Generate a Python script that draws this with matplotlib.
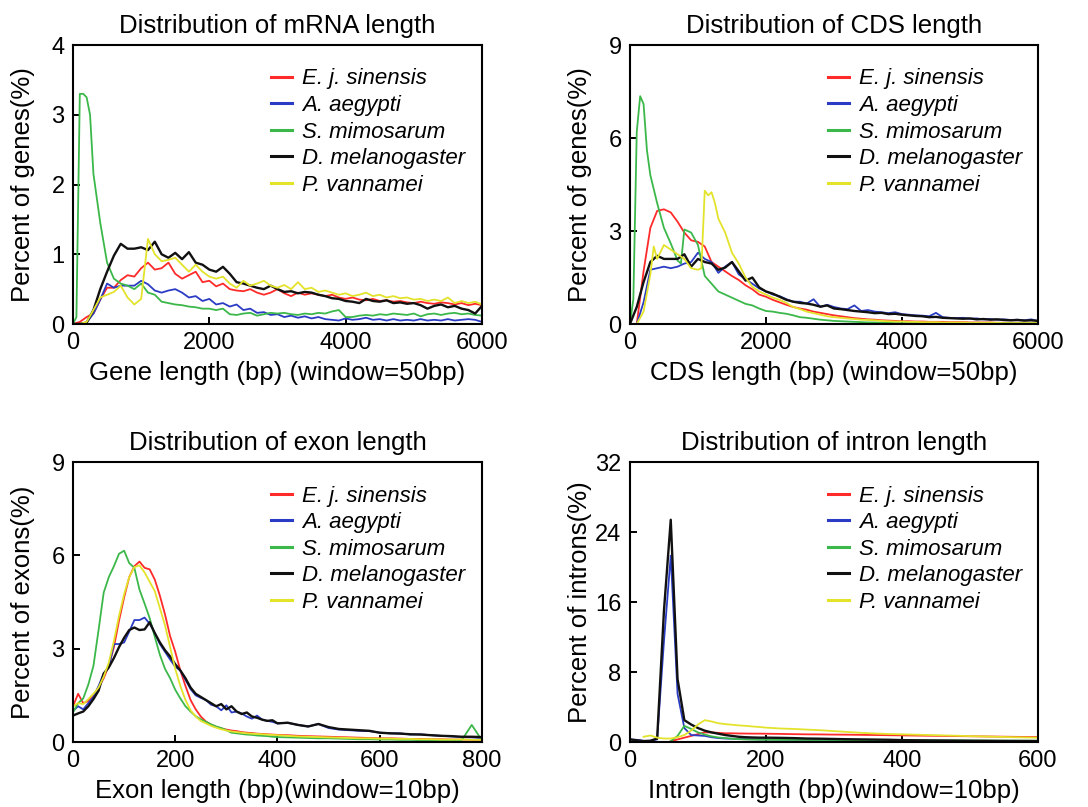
import numpy as np
import matplotlib
matplotlib.use("Agg")
import matplotlib.pyplot as plt

plt.rcParams['font.family'] = ['Liberation Sans', 'DejaVu Sans']

# ---------------------------------------------------------------------
# Species / colours
# ---------------------------------------------------------------------
SPECIES = ["E. j. sinensis", "A. aegypti", "S. mimosarum", "D. melanogaster", "P. vannamei"]
COLORS  = ["#ff2a2a", "#2b3cc4", "#3cb84a", "#111111", "#e3e32c"]

# ---------------------------------------------------------------------
# mRNA length (window=50bp)
# ---------------------------------------------------------------------
mrna_x = list(range(0, 6001, 100))
mrna_red = [0, 0.03, 0.1, 0.15, 0.35, 0.52, 0.52, 0.63, 0.7, 0.68,
            0.8, 0.88, 0.78, 0.8, 0.88, 0.72, 0.65, 0.7, 0.75, 0.6,
            0.62, 0.54, 0.58, 0.5, 0.48, 0.47, 0.5, 0.45, 0.42, 0.45,
            0.5, 0.44, 0.4, 0.45, 0.42, 0.44, 0.42, 0.4, 0.42, 0.38,
            0.36, 0.38, 0.35, 0.34, 0.36, 0.33, 0.34, 0.32, 0.33, 0.31,
            0.3, 0.32, 0.3, 0.29, 0.31, 0.3, 0.28, 0.3, 0.27, 0.29, 0.27]
mrna_blue = [0, 0, 0.02, 0.15, 0.35, 0.58, 0.52, 0.55, 0.55, 0.55,
             0.62, 0.57, 0.48, 0.45, 0.48, 0.5, 0.45, 0.38, 0.4, 0.33,
             0.36, 0.28, 0.3, 0.25, 0.28, 0.2, 0.22, 0.16, 0.17, 0.13,
             0.14, 0.1, 0.12, 0.09, 0.11, 0.08, 0.1, 0.07, 0.06, 0.05,
             0.08, 0.06, 0.07, 0.09, 0.06, 0.07, 0.05, 0.07, 0.05, 0.06,
             0.05, 0.07, 0.05, 0.06, 0.05, 0.07, 0.05, 0.06, 0.07, 0.06, 0.03]
mrna_green_x = [0, 50, 100, 150, 200, 250, 300] + list(range(400, 6001, 100))
mrna_green = [0, 0.1, 3.3, 3.3, 3.25, 3.0, 2.15,
              1.45, 0.88, 0.65, 0.58, 0.55, 0.5,
              0.58, 0.45, 0.42, 0.32, 0.3, 0.28, 0.27, 0.25, 0.24, 0.22,
              0.22, 0.2, 0.22, 0.14, 0.13, 0.15, 0.16, 0.12, 0.14, 0.16,
              0.15, 0.16, 0.14, 0.13, 0.15, 0.14, 0.16, 0.15, 0.18, 0.2,
              0.1, 0.1, 0.12, 0.13, 0.12, 0.14, 0.13, 0.15, 0.14, 0.13,
              0.15, 0.11, 0.14, 0.15, 0.13, 0.15, 0.16, 0.14, 0.15, 0.13, 0.12]
mrna_black = [0, 0, 0.02, 0.2, 0.5, 0.75, 0.98, 1.15, 1.08, 1.08,
              1.1, 1.06, 1.18, 1.0, 0.95, 1.02, 0.93, 1.03, 0.88, 0.85,
              0.78, 0.75, 0.82, 0.72, 0.6, 0.58, 0.55, 0.52, 0.5, 0.55,
              0.5, 0.46, 0.47, 0.44, 0.46, 0.45, 0.42, 0.4, 0.37, 0.36,
              0.33, 0.32, 0.3, 0.36, 0.33, 0.32, 0.34, 0.3, 0.31, 0.29,
              0.3, 0.27, 0.22, 0.26, 0.28, 0.24, 0.26, 0.22, 0.2, 0.15, 0.26]
mrna_yellow = [0, 0, 0.03, 0.2, 0.38, 0.42, 0.46, 0.55, 0.38, 0.28,
               0.36, 1.22, 1.0, 0.9, 0.92, 0.95, 0.85, 0.75, 0.85, 0.75,
               0.68, 0.65, 0.68, 0.58, 0.52, 0.62, 0.55, 0.58, 0.62, 0.55,
               0.52, 0.56, 0.5, 0.6, 0.5, 0.52, 0.46, 0.48, 0.45, 0.42,
               0.44, 0.4, 0.42, 0.45, 0.4, 0.42, 0.38, 0.4, 0.37, 0.38,
               0.35, 0.36, 0.33, 0.35, 0.33, 0.38, 0.3, 0.33, 0.3, 0.32, 0.28]

# ---------------------------------------------------------------------
# CDS length (window=50bp)
# ---------------------------------------------------------------------
cds_x = list(range(0, 6001, 100))
cds_red = [0, 0, 1.7, 3.1, 3.65, 3.7, 3.6, 3.3, 2.95, 2.7,
           2.65, 2.5, 2.0, 1.85, 1.7, 1.55, 1.42, 1.25, 1.12, 0.95,
           0.88, 0.78, 0.7, 0.62, 0.55, 0.5, 0.46, 0.4, 0.36, 0.32,
           0.28, 0.25, 0.22, 0.19, 0.17, 0.15, 0.14, 0.12, 0.11, 0.1,
           0.09, 0.09, 0.08, 0.08, 0.07, 0.07, 0.07, 0.06, 0.06, 0.06,
           0.05, 0.05, 0.05, 0.05, 0.04, 0.04, 0.04, 0.04, 0.04, 0.04, 0.04]
cds_blue = [0, 0, 0.7, 1.75, 1.8, 1.85, 1.8, 1.85, 1.95, 2.0,
            2.3, 2.1, 2.0, 1.65, 1.85, 2.0, 1.6, 1.45, 1.3, 1.15,
            1.05, 0.95, 0.9, 0.8, 0.72, 0.72, 0.66, 0.8, 0.55, 0.62,
            0.55, 0.5, 0.48, 0.6, 0.42, 0.45, 0.4, 0.38, 0.35, 0.38,
            0.32, 0.3, 0.28, 0.27, 0.25, 0.36, 0.22, 0.2, 0.19, 0.2,
            0.17, 0.18, 0.15, 0.16, 0.14, 0.15, 0.13, 0.14, 0.12, 0.15, 0.1]
cds_green_x = ([0, 50, 100, 150, 200, 250, 300] + list(range(400, 701, 100))
               + [750] + list(range(800, 6001, 100)))
cds_green = [0, 0.8, 6.2, 7.35, 7.1, 5.6, 4.8,
             3.9, 3.1, 2.6, 2.05,
             1.95,
             3.05, 2.95, 2.55, 1.55, 1.3, 1.05, 0.95, 0.85, 0.75, 0.65, 0.6, 0.5,
             0.42, 0.4, 0.36, 0.33, 0.28, 0.22, 0.2, 0.17, 0.14, 0.12,
             0.1, 0.09, 0.08, 0.07, 0.06, 0.05, 0.05, 0.04, 0.04, 0.03,
             0.03, 0.03, 0.03, 0.03, 0.03, 0.03, 0.03, 0.03, 0.03, 0.03,
             0.03, 0.03, 0.03, 0.03, 0.03, 0.03, 0.03, 0.03, 0.03, 0.03, 0.03]
cds_black = [0, 0.55, 1.35, 2.0, 2.2, 2.1, 2.1, 2.1, 2.25, 1.85,
             2.1, 2.0, 1.95, 1.75, 1.82, 2.0, 1.7, 1.4, 1.5, 1.18,
             1.05, 0.98, 0.88, 0.78, 0.72, 0.68, 0.66, 0.62, 0.56, 0.6,
             0.5, 0.48, 0.45, 0.42, 0.4, 0.38, 0.35, 0.36, 0.32, 0.33,
             0.3, 0.28, 0.26, 0.25, 0.22, 0.23, 0.2, 0.19, 0.18, 0.17,
             0.18, 0.15, 0.16, 0.14, 0.15, 0.13, 0.12, 0.13, 0.11, 0.12, 0.1]
cds_yellow_x = ([0, 100, 200, 300, 350] + list(range(400, 1001, 100))
                + [1050, 1100, 1150, 1200, 1250] + list(range(1300, 6001, 100)))
cds_yellow = [0, 0, 0.4, 1.6, 2.5,
              2.1, 2.55, 2.4, 2.25, 2.1, 1.8, 1.75,
              1.8, 4.3, 4.15, 4.25, 3.9,
              3.4, 2.95, 2.3, 1.95, 1.5, 1.2, 1.05,
              0.95, 0.85, 0.78, 0.68, 0.55, 0.48, 0.4, 0.35, 0.3, 0.25,
              0.22, 0.2, 0.18, 0.16, 0.14, 0.13, 0.12, 0.1, 0.09, 0.08,
              0.08, 0.07, 0.07, 0.06, 0.06, 0.06, 0.05, 0.05, 0.05, 0.05,
              0.04, 0.04, 0.04, 0.04, 0.04, 0.03, 0.03, 0.03, 0.03, 0.03, 0.03]

# ---------------------------------------------------------------------
# exon length (window=10bp)
# ---------------------------------------------------------------------
exon_x = list(range(0, 401, 10)) + list(range(420, 801, 20))
exon_red = [1.15, 1.55, 1.25, 1.32, 1.5, 1.75, 2.05, 2.45, 3.05, 3.9,
            4.65, 5.3, 5.65, 5.8, 5.6, 5.55, 5.22, 4.7, 4.1, 3.4,
            2.9, 2.3, 1.8, 1.35, 1.05, 0.82, 0.66, 0.56, 0.49, 0.44,
            0.4, 0.37, 0.35, 0.32, 0.3, 0.29, 0.27, 0.26, 0.25, 0.24,
            0.23,
            0.22, 0.2, 0.19, 0.18, 0.17, 0.16, 0.15, 0.14, 0.13, 0.12,
            0.12, 0.11, 0.1, 0.1, 0.09, 0.09, 0.08, 0.08, 0.07, 0.07]
exon_blue = [1.0, 1.15, 1.05, 1.25, 1.45, 1.8, 2.2, 2.4, 3.15, 3.15,
             3.2, 3.55, 3.92, 3.92, 4.0, 3.8, 3.5, 3.15, 2.9, 2.65,
             2.42, 2.3, 2.0, 1.7, 1.5, 1.42, 1.35, 1.2, 1.15, 1.02,
             1.18, 0.95, 0.98, 0.92, 0.82, 0.75, 0.85, 0.72, 0.68, 0.65,
             0.6,
             0.62, 0.55, 0.5, 0.58, 0.45, 0.4, 0.38, 0.36, 0.35, 0.3,
             0.28, 0.28, 0.24, 0.25, 0.22, 0.2, 0.18, 0.16, 0.15, 0.13]
exon_green = [0.95, 1.25, 1.4, 1.85, 2.45, 3.6, 4.8, 5.3, 5.65, 6.05,
              6.15, 5.75, 5.6, 4.9, 4.45, 3.98, 3.38, 2.8, 2.35, 2.05,
              1.68, 1.4, 1.15, 0.98, 0.83, 0.73, 0.65, 0.57, 0.5, 0.45,
              0.38, 0.3, 0.28, 0.26, 0.24, 0.23, 0.21, 0.2, 0.19, 0.17,
              0.16,
              0.15, 0.14, 0.13, 0.12, 0.12, 0.11, 0.1, 0.09, 0.09, 0.08,
              0.08, 0.07, 0.07, 0.06, 0.06, 0.06, 0.05, 0.05, 0.55, 0.05]
exon_black = [0.85, 0.92, 0.98, 1.15, 1.38, 1.65, 2.2, 2.4, 2.7, 3.05,
              3.35, 3.6, 3.68, 3.6, 3.62, 3.85, 3.5, 3.2, 2.95, 2.75,
              2.5, 2.3, 2.05, 1.75, 1.55, 1.45, 1.35, 1.25, 1.15, 1.22,
              1.05, 1.15, 0.98, 0.9, 0.95, 0.82, 0.78, 0.72, 0.68, 0.7,
              0.6,
              0.62, 0.55, 0.5, 0.58, 0.48, 0.42, 0.4, 0.38, 0.36, 0.3,
              0.28, 0.27, 0.25, 0.24, 0.22, 0.2, 0.19, 0.17, 0.17, 0.16]
exon_yellow = [1.15, 1.25, 1.22, 1.38, 1.55, 1.75, 2.1, 2.55, 3.25, 4.05,
               4.75, 5.3, 5.62, 5.68, 5.45, 5.15, 4.85, 4.3, 3.75, 3.05,
               2.35, 1.8, 1.35, 1.02, 0.82, 0.68, 0.6, 0.52, 0.46, 0.41,
               0.37, 0.34, 0.32, 0.3, 0.28, 0.27, 0.26, 0.25, 0.24, 0.23,
               0.22,
               0.2, 0.18, 0.17, 0.16, 0.15, 0.14, 0.13, 0.12, 0.12, 0.11,
               0.11, 0.1, 0.1, 0.09, 0.09, 0.08, 0.08, 0.08, 0.07, 0.07]

# ---------------------------------------------------------------------
# intron length (window=10bp)
# ---------------------------------------------------------------------
intron_x = list(range(0, 201, 10)) + list(range(220, 601, 20))
intron_late_x = list(range(60, 201, 10)) + list(range(220, 601, 20))
intron_yellow_x = list(range(20, 201, 10)) + list(range(220, 601, 20))
intron_red = [0.1, 0.3, 0.5, 0.7, 0.9, 1.1, 1.1, 1.05, 1.0, 1.0, 0.98, 0.97, 0.96, 0.96, 0.95,
              0.93, 0.9, 0.88, 0.87, 0.85, 0.84, 0.82, 0.8, 0.78, 0.76,
              0.74, 0.72, 0.7, 0.68, 0.66, 0.64, 0.62, 0.6, 0.58, 0.57]
intron_blue = [0.3, 0.25, 0.15, 0.12, 0.3, 11.5, 21.3, 5.5, 1.6, 0.8,
               0.75, 0.7, 0.55, 0.45, 0.4, 0.38, 0.35, 0.33, 0.32, 0.3,
               0.3,
               0.28, 0.27, 0.25, 0.25, 0.23, 0.22, 0.21, 0.2, 0.19, 0.18,
               0.17, 0.16, 0.15, 0.14, 0.13, 0.12, 0.12, 0.11, 0.1, 0.1]
intron_green = [0.1, 0.7, 1.85, 1.5, 1.1, 0.85, 0.65, 0.52, 0.45, 0.38, 0.33, 0.3, 0.28, 0.27, 0.26,
                0.25, 0.25, 0.24, 0.24, 0.23, 0.22, 0.22, 0.21, 0.2, 0.2,
                0.19, 0.19, 0.18, 0.18, 0.17, 0.17, 0.16, 0.16, 0.15, 0.15]
intron_black = [0.3, 0.2, 0.1, 0.15, 0.4, 15.0, 25.4, 7.2, 2.5, 2.0,
                1.6, 1.3, 1.1, 0.95, 0.8, 0.7, 0.6, 0.55, 0.52, 0.5,
                0.5,
                0.48, 0.45, 0.4, 0.38, 0.35, 0.32, 0.3, 0.28, 0.26, 0.22,
                0.2, 0.18, 0.17, 0.16, 0.15, 0.14, 0.13, 0.12, 0.12, 0.11]
intron_yellow = [0.6, 0.75, 0.5, 0.4, 0.4, 0.55, 0.8, 1.3, 2.0, 2.5, 2.35, 2.15, 2.05, 1.98, 1.9,
                 1.85, 1.78, 1.72, 1.65,
                 1.55, 1.5, 1.42, 1.35, 1.25, 1.15, 1.05, 0.98, 0.92, 0.88,
                 0.84, 0.8, 0.76, 0.72, 0.68, 0.64, 0.6, 0.56, 0.53, 0.5]


def draw_panel(ax, series, xmax, xticks, ymax, yticks, title, xlabel, ylabel):
    for (x, y), color in zip(series, COLORS):
        lw = 1.7 if color == "#111111" else 1.3
        ax.plot(x, y, color=color, lw=lw)
    ax.set_xlim(0, xmax)
    ax.set_ylim(0, ymax)
    ax.set_xticks(xticks)
    ax.set_yticks(yticks)
    ax.tick_params(direction="in", length=5, width=1.4, labelsize=17, pad=6)
    for sp in ax.spines.values():
        sp.set_linewidth(1.5)
    ax.set_title(title, fontsize=18.5, pad=9)
    ax.set_xlabel(xlabel, fontsize=18.5, labelpad=5)
    ax.set_ylabel(ylabel, fontsize=18.5)
    # y label sits at a fixed distance from the axis, not from tick labels
    ax.yaxis.set_label_coords(-0.094, 0.5)
    leg = ax.legend(SPECIES, loc="upper left", bbox_to_anchor=(0.485, 0.916),
                    frameon=False, borderpad=0, borderaxespad=0,
                    handlelength=0.95, handletextpad=0.45, labelspacing=0.25,
                    prop={"style": "italic", "size": 16})
    for h in leg.legend_handles:
        h.set_linewidth(2.2)


# =============================================================================
#                               FIGURE
# =============================================================================
fig = plt.figure(figsize=(10.88, 8.07), dpi=100)

ax1 = fig.add_axes([0.0671, 0.5985, 0.3759, 0.3457])
ax2 = fig.add_axes([0.5790, 0.5985, 0.3750, 0.3457])
ax3 = fig.add_axes([0.0671, 0.0805, 0.3759, 0.3470])
ax4 = fig.add_axes([0.5790, 0.0805, 0.3750, 0.3470])

draw_panel(ax1,
           [(mrna_x, mrna_red), (mrna_x, mrna_blue), (mrna_green_x, mrna_green),
            (mrna_x, mrna_black), (mrna_x, mrna_yellow)],
           6000, [0, 2000, 4000, 6000], 4, [0, 1, 2, 3, 4],
           "Distribution of mRNA length", "Gene length (bp) (window=50bp)",
           "Percent of genes(%)")

draw_panel(ax2,
           [(cds_x, cds_red), (cds_x, cds_blue), (cds_green_x, cds_green),
            (cds_x, cds_black), (cds_yellow_x, cds_yellow)],
           6000, [0, 2000, 4000, 6000], 9, [0, 3, 6, 9],
           "Distribution of CDS length", "CDS length (bp) (window=50bp)",
           "Percent of genes(%)")

draw_panel(ax3,
           [(exon_x, exon_red), (exon_x, exon_blue), (exon_x, exon_green),
            (exon_x, exon_black), (exon_x, exon_yellow)],
           800, [0, 200, 400, 600, 800], 9, [0, 3, 6, 9],
           "Distribution of exon length", "Exon length (bp)(window=10bp)",
           "Percent of exons(%)")

draw_panel(ax4,
           [(intron_late_x, intron_red), (intron_x, intron_blue), (intron_late_x, intron_green),
            (intron_x, intron_black), (intron_yellow_x, intron_yellow)],
           600, [0, 200, 400, 600], 32, [0, 8, 16, 24, 32],
           "Distribution of intron length", "Intron length (bp)(window=10bp)",
           "Percent of introns(%)")

plt.savefig("out.png", dpi=100)
plt.close()
